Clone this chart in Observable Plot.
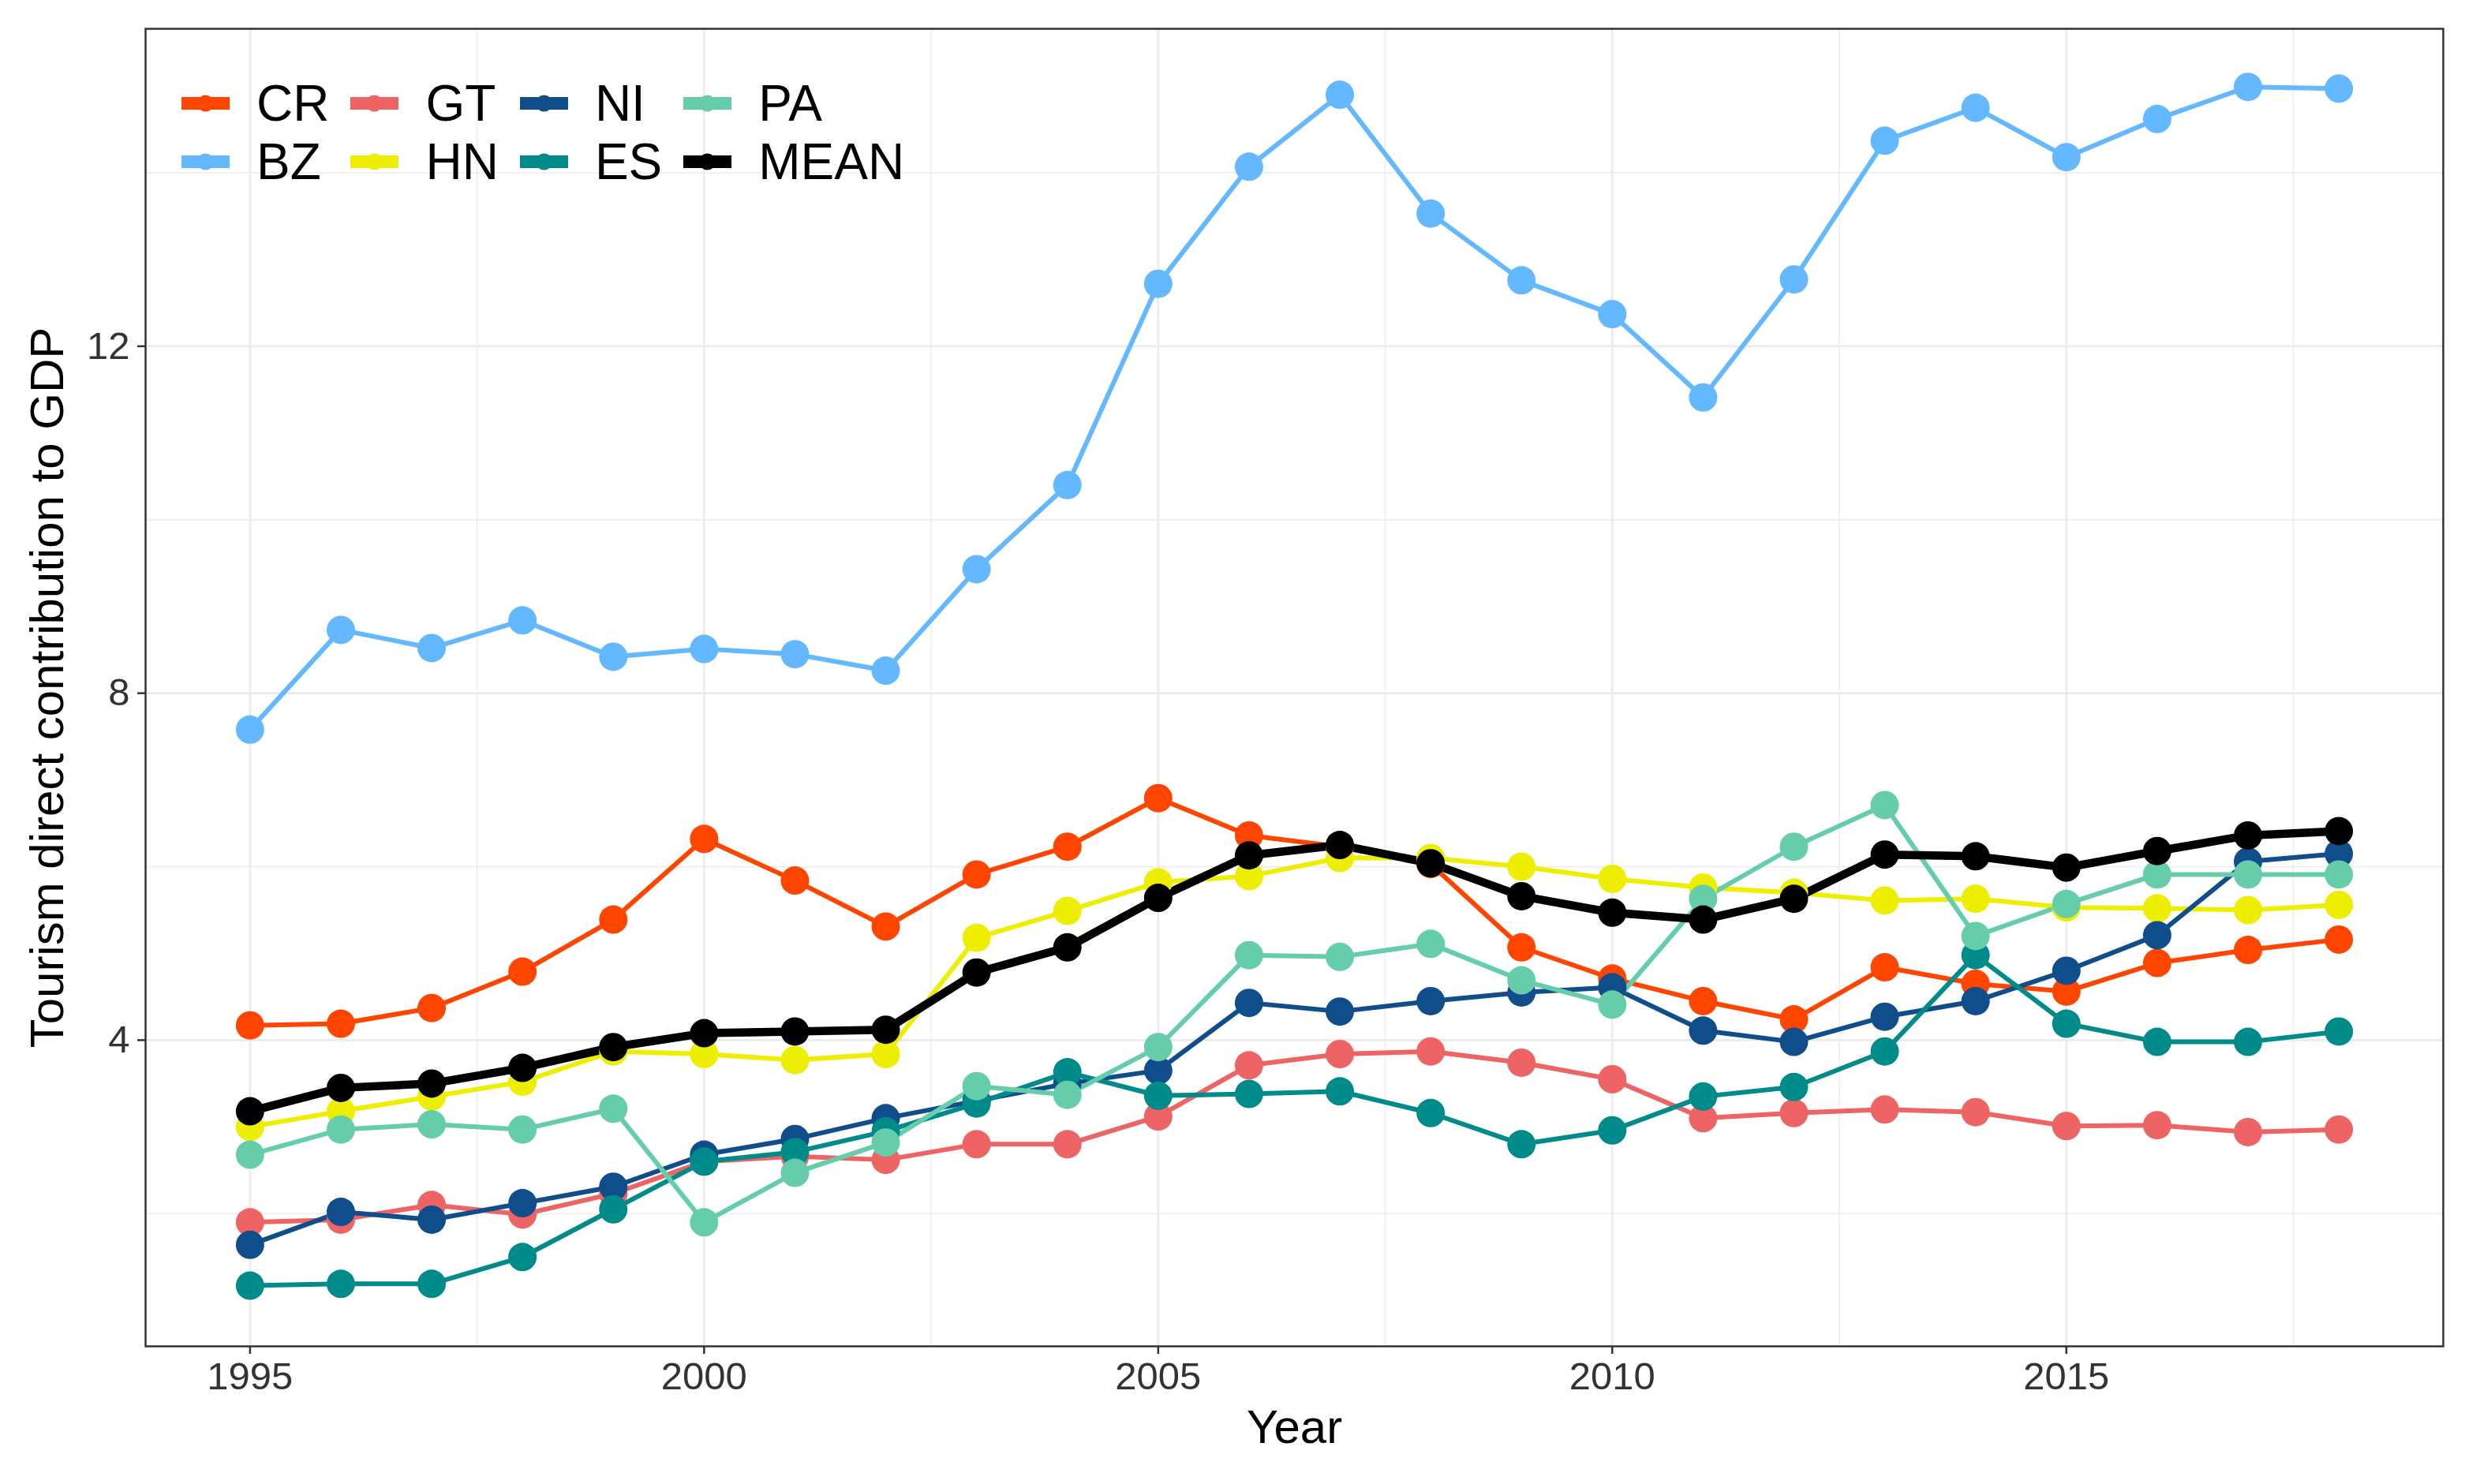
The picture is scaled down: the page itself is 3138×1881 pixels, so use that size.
<!DOCTYPE html>
<html>
<head>
<meta charset="utf-8">
<script src="https://cdn.jsdelivr.net/npm/d3@7"></script>
<script src="https://cdn.jsdelivr.net/npm/@observablehq/plot@0.6"></script>
<style>
  html, body { margin: 0; padding: 0; background: #fff; overflow: hidden; }
  #wrap { position: relative; width: 3138px; height: 1881px; font-family: "Liberation Sans", Arial, sans-serif; }
  #legend {
    position: absolute; left: 230px; top: 94px;
    display: grid; grid-auto-flow: column; grid-template-rows: repeat(2, 74px);
    column-gap: 27px; align-items: center;
    font-size: 64px; color: #000;
  }
  .item { display: flex; align-items: center; white-space: nowrap; }
  .item svg { margin-right: 34px; display: block; }
</style>
</head>
<body>
<div id="wrap"><div id="legend"></div></div>
<script>
const years = d3.range(1995, 2019);
const countries = ["CR", "BZ", "GT", "HN", "NI", "ES", "PA", "MEAN"];
const colors = ["#FF4500", "#63B8FF", "#EE6363", "#EEEE00", "#104E8B", "#008B8B", "#66CDAA", "#000000"];

const CR   = [4.17, 4.19, 4.37, 4.79, 5.39, 6.32, 5.84, 5.31, 5.91, 6.23, 6.79, 6.36, 6.23, 6.03, 5.07, 4.71, 4.45, 4.24, 4.84, 4.65, 4.56, 4.89, 5.04, 5.16];
const BZ   = [7.58, 8.73, 8.52, 8.84, 8.42, 8.51, 8.45, 8.26, 9.43, 10.40, 12.72, 14.07, 14.90, 13.53, 12.76, 12.37, 11.41, 12.77, 14.37, 14.75, 14.18, 14.62, 14.99, 14.97];
const GT   = [1.90, 1.93, 2.10, 1.99, 2.23, 2.60, 2.66, 2.62, 2.80, 2.80, 3.12, 3.71, 3.84, 3.87, 3.74, 3.55, 3.10, 3.16, 3.20, 3.17, 3.01, 3.02, 2.94, 2.97];
const HN   = [3.00, 3.18, 3.35, 3.52, 3.87, 3.84, 3.77, 3.84, 5.18, 5.49, 5.82, 5.89, 6.10, 6.10, 6.00, 5.86, 5.76, 5.70, 5.61, 5.63, 5.53, 5.52, 5.50, 5.56];
const NI   = [1.64, 2.02, 1.93, 2.12, 2.31, 2.68, 2.86, 3.10, 3.30, 3.50, 3.65, 4.43, 4.33, 4.45, 4.55, 4.61, 4.11, 3.98, 4.27, 4.45, 4.80, 5.21, 6.06, 6.15];
const ES   = [1.17, 1.19, 1.19, 1.50, 2.05, 2.60, 2.71, 2.95, 3.27, 3.63, 3.36, 3.38, 3.41, 3.16, 2.80, 2.96, 3.35, 3.46, 3.87, 4.98, 4.19, 3.98, 3.98, 4.10];
const PA   = [2.68, 2.97, 3.03, 2.97, 3.21, 1.90, 2.47, 2.82, 3.47, 3.37, 3.92, 4.98, 4.96, 5.11, 4.69, 4.41, 5.63, 6.23, 6.71, 5.20, 5.57, 5.91, 5.91, 5.91];
const MEAN = [3.18, 3.45, 3.50, 3.68, 3.92, 4.08, 4.10, 4.12, 4.78, 5.07, 5.64, 6.13, 6.25, 6.04, 5.66, 5.47, 5.39, 5.63, 6.14, 6.12, 5.99, 6.18, 6.36, 6.41];

const xTicks = [1995, 2000, 2005, 2010, 2015];
const xMinor = [1997.5, 2002.5, 2007.5, 2012.5, 2017.5];
const yTicks = [4, 8, 12];
const yMinor = [2, 6, 10, 14];

const seriesValues = {CR, BZ, GT, HN, NI, ES, PA, MEAN};
const data = countries.flatMap(c => seriesValues[c].map((v, i) => ({country: c, year: years[i], value: v})));
const others = data.filter(d => d.country !== "MEAN");
const meanData = data.filter(d => d.country === "MEAN");

const grid = "#EBEBEB";
const chart = Plot.plot({
  width: 3138, height: 1881,
  marginLeft: 184, marginRight: 42, marginTop: 36, marginBottom: 175,
  style: {fontFamily: "'Liberation Sans', Arial, sans-serif", background: "#fff", color: "#333"},
  x: {domain: [1993.85, 2019.15]},
  y: {domain: [0.47, 15.66]},
  color: {domain: countries, range: colors},
  marks: [
    Plot.ruleX(xMinor, {stroke: grid, strokeWidth: 1.3}),
    Plot.ruleY(yMinor, {stroke: grid, strokeWidth: 1.3}),
    Plot.ruleX(xTicks, {stroke: grid, strokeWidth: 2.6}),
    Plot.ruleY(yTicks, {stroke: grid, strokeWidth: 2.6}),
    Plot.line(others, {x: "year", y: "value", z: "country", stroke: "country", strokeWidth: 6}),
    Plot.line(meanData, {x: "year", y: "value", stroke: "country", strokeWidth: 10.5}),
    Plot.dot(data, {x: "year", y: "value", fill: "country", r: 18}),
    Plot.frame({stroke: "#333", strokeWidth: 2.5}),
    Plot.axisX({ticks: xTicks, tickFormat: d => String(d), tickSize: 10, tickPadding: 10, fontSize: 49, label: null, strokeWidth: 2.5}),
    Plot.axisY({ticks: yTicks, tickSize: 10, tickPadding: 10, fontSize: 49, label: null, strokeWidth: 2.5}),
    Plot.text(["Year"], {frameAnchor: "bottom", dy: 122, lineAnchor: "bottom", fontSize: 60, fill: "#000"}),
    Plot.text(["Tourism direct contribution to GDP"], {frameAnchor: "left", textAnchor: "middle", lineAnchor: "middle", dx: -124, rotate: -90, fontSize: 60, fill: "#000"})
  ]
});
document.getElementById("wrap").prepend(chart);

const legend = document.getElementById("legend");
const legendOrder = ["CR", "BZ", "GT", "HN", "NI", "ES", "PA", "MEAN"];
legendOrder.forEach(c => {
  const col = colors[countries.indexOf(c)];
  const item = document.createElement("div");
  item.className = "item";
  item.innerHTML = `<svg width="61" height="24"><line x1="0" x2="61" y1="12" y2="12" stroke="${col}" stroke-width="16"/><circle cx="30.5" cy="12" r="10.5" fill="${col}"/></svg><span>${c}</span>`;
  legend.appendChild(item);
});
</script>
</body>
</html>
